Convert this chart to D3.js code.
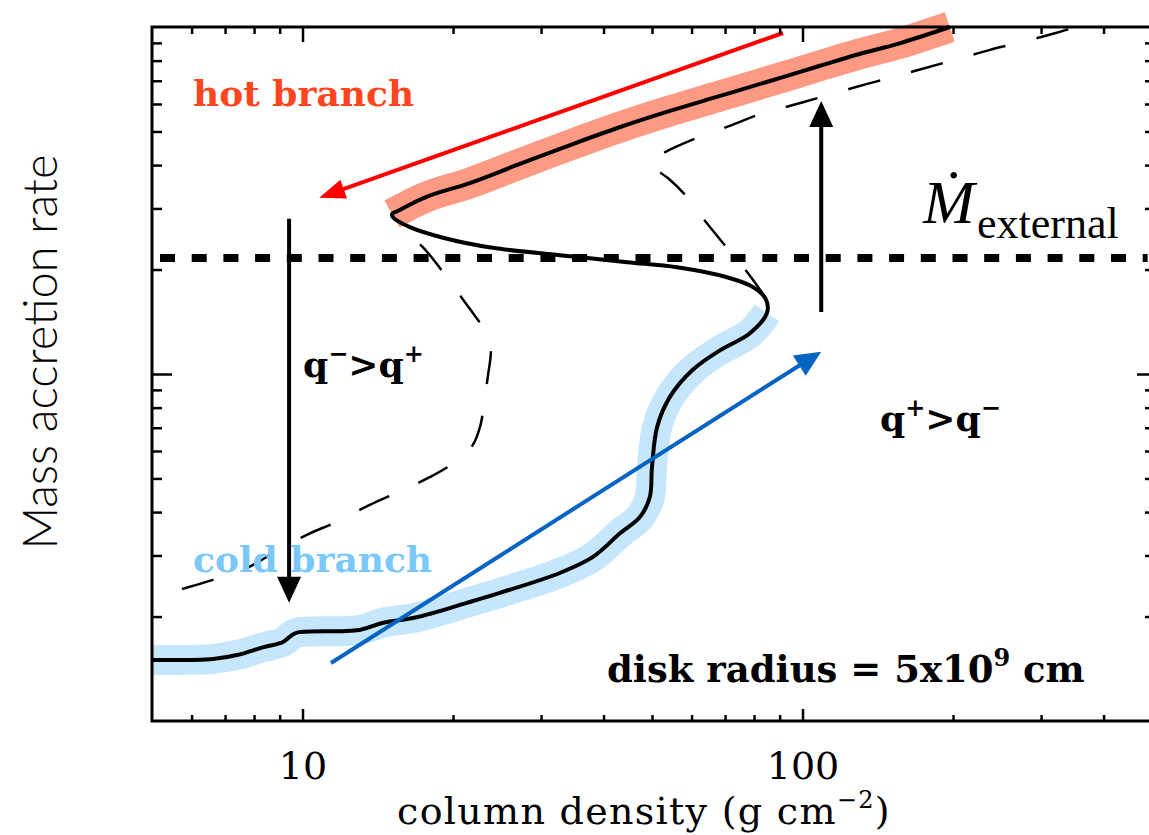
<!DOCTYPE html>
<html>
<head>
<meta charset="utf-8">
<script src="https://cdn.jsdelivr.net/npm/d3@7"></script>
<style>
body { margin: 0; background: #fff; }
svg { display: block; }
</style>
</head>
<body>
<svg id="chart" width="1149" height="835"></svg>
<script>
var width = 1149,
    height = 835;

// thermal equilibrium S-curve (column density, accretion rate in arbitrary units)
var sCurveX = [5.00, 6.62, 7.40, 8.33, 9.14, 9.53, 9.79, 13.0, 14.5, 16.9, 21.3, 24.8, 32.7, 38.1, 43.2, 47.3,
               49.5, 50.0, 51.2, 54.3, 60.4, 68.4, 78.5, 84.9, 84.5, 79.6, 70.6, 56.1, 44.6, 32.7, 24.0, 19.1,
               16.4, 15.2, 15.1, 15.5, 17.7, 21.6, 27.2, 34.3, 43.2, 54.3, 68.4, 86.1, 108, 130, 157, 197];
var sCurveY = [1.50, 1.51, 1.55, 1.63, 1.69, 1.77, 1.80, 1.83, 1.92, 1.99, 2.19, 2.34, 2.67, 2.97, 3.48, 3.87,
               4.42, 5.40, 7.04, 8.59, 10.3, 11.7, 13.1, 15.0, 16.4, 17.8, 19.0, 20.3, 21.0, 22.0, 23.1, 24.7,
               26.5, 28.2, 28.9, 29.5, 32.4, 35.5, 40.3, 45.7, 51.5, 57.3, 63.3, 69.9, 77.2, 83.6, 89.9, 100];
var coldEnd = 24,   // cold branch = first points
    hotStart = 34;  // hot branch = from here on

// dashed curves (other radii)
var dashRX = [84.1, 77.4, 70.6, 64.1, 58.5, 53.8, 50.0, 49.8, 53.1, 61.5, 71.3, 82.6, 95.7, 111, 130, 152,
              176, 205, 237, 276, 321, 352];
var dashRY = [16.7, 19.7, 23.1, 27.4, 32.6, 36.7, 39.8, 41.4, 43.6, 47.9, 51.8, 56.2, 59.6, 63.3, 67.6, 71.8,
              76.2, 80.9, 85.9, 90.6, 96.1, 100];
var dashLX = [15.5, 16.6, 17.6, 19.5, 21.2, 22.6, 23.4, 23.8, 23.5, 23.1, 22.7, 21.9, 20.2, 18.0, 15.7, 13.6,
              11.7, 10.2, 8.81, 7.74, 6.62, 5.74];
var dashLY = [27.1, 24.7, 22.8, 18.9, 16.0, 14.1, 13.2, 11.7, 9.93, 8.42, 7.13, 6.24, 5.58, 5.05, 4.60, 4.19,
              3.75, 3.44, 3.07, 2.76, 2.55, 2.40];

var mdotExternal = 21.6;

// arrows: red (hot -> down), blue (cold -> up), black drop, black rise
var arrowX0 = [91.4, 11.4, 9.40, 109],
    arrowY0 = [96.1, 1.47, 28.0, 15.1],
    arrowX1 = [10.8, 109, 9.40, 109],
    arrowY1 = [32.2, 11.6, 2.19, 61.2];
var arrowColor = ["#ff0000", "#0563c1", "#000", "#000"];

var xMajorTicks = [10, 100],
    xMinorTicks = [6, 7, 8, 9, 20, 30, 40, 50, 60, 70, 80, 90, 200, 300, 400],
    yMajorTicks = [10],
    yMinorTicks = [2, 3, 4, 5, 6, 7, 8, 9, 20, 30, 40, 50, 60, 70, 80, 90];

var pl = 152, pr = 1152, pt = 27, pb = 721;

var svg = d3.select("#chart");
svg.append("rect").attr("width", width).attr("height", height).attr("fill", "#fff");

var x = d3.scaleLog().domain([5, 500]).range([pl, pr]);
var y = d3.scaleLog().domain([1, 100]).range([pb, pt]);

var line = d3.line()
    .x(function(d) { return x(d[0]); })
    .y(function(d) { return y(d[1]); })
    .curve(d3.curveCatmullRom.alpha(0.5));

function pts(xs, ys) { return xs.map(function(v, i) { return [v, ys[i]]; }); }

var sCurve = pts(sCurveX, sCurveY);

// highlight bands
svg.append("path").attr("d", line(sCurve.slice(0, coldEnd)))
    .attr("fill", "none").attr("stroke", "#c6e6fb").attr("stroke-width", 30);
svg.append("path").attr("d", line(sCurve.slice(hotStart)))
    .attr("fill", "none").attr("stroke", "#fd9a83").attr("stroke-width", 31);

// dashed curves
svg.append("path").attr("d", line(pts(dashRX, dashRY)))
    .attr("fill", "none").attr("stroke", "#000").attr("stroke-width", 2.5)
    .attr("stroke-dasharray", "33,32");
var dl = svg.append("path").attr("d", line(pts(dashLX, dashLY)))
    .attr("fill", "none").attr("stroke", "#000").attr("stroke-width", 2.5)
    .attr("stroke-dasharray", "33,32");
// end the left curve on a dash
dl.attr("stroke-dashoffset", 33 - dl.node().getTotalLength() % 65);

// external accretion rate
svg.append("line")
    .attr("x1", x(5)).attr("x2", x(490))
    .attr("y1", y(mdotExternal)).attr("y2", y(mdotExternal))
    .attr("stroke", "#000").attr("stroke-width", 8)
    .attr("stroke-dasharray", "15,16.7").attr("stroke-dashoffset", 23.7);

// main curve
svg.append("path").attr("d", line(sCurve))
    .attr("fill", "none").attr("stroke", "#000").attr("stroke-width", 4);

// arrows
arrowX0.forEach(function(v, i) {
  var x0 = x(v), y0 = y(arrowY0[i]), x1 = x(arrowX1[i]), y1 = y(arrowY1[i]);
  var len = 26, hw = i == 0 ? 10 : 12;
  var dx = x1 - x0, dy = y1 - y0, d = Math.sqrt(dx * dx + dy * dy);
  var ux = dx / d, uy = dy / d, bx = x1 - ux * len, by = y1 - uy * len;
  svg.append("line").attr("x1", x0).attr("y1", y0).attr("x2", bx + ux * 2).attr("y2", by + uy * 2)
      .attr("stroke", arrowColor[i]).attr("stroke-width", 4);
  svg.append("path")
      .attr("d", "M" + x1 + "," + y1 + "L" + (bx - uy * hw) + "," + (by + ux * hw) +
                 "L" + (bx + uy * hw) + "," + (by - ux * hw) + "Z")
      .attr("fill", arrowColor[i]);
});

// axes
function ticks(axis, vals, size, pos, labels) {
  var g = svg.append("g").attr("transform", pos)
      .call(axis.tickValues(vals).tickSize(-size).tickPadding(31)
        .tickFormat(labels ? d3.format("d") : ""));
  g.select(".domain").remove();
  g.selectAll("line").attr("stroke", "#000").attr("stroke-width", 2.5);
  g.selectAll("text").attr("font-family", "DejaVu Serif").attr("font-size", 38).attr("fill", "#000");
}
ticks(d3.axisBottom(x), xMinorTicks, 6, "translate(0," + pb + ")");
ticks(d3.axisBottom(x), xMajorTicks, 12, "translate(0," + pb + ")", true);
ticks(d3.axisTop(x), xMinorTicks, 7, "translate(0," + pt + ")");
ticks(d3.axisTop(x), xMajorTicks, 15, "translate(0," + pt + ")");
ticks(d3.axisLeft(y), yMinorTicks, 10, "translate(" + pl + ",0)");
ticks(d3.axisLeft(y), yMajorTicks, 20, "translate(" + pl + ",0)");
ticks(d3.axisRight(y), yMinorTicks, 7, "translate(" + pr + ",0)");
ticks(d3.axisRight(y), yMajorTicks, 15, "translate(" + pr + ",0)");

svg.append("rect").attr("x", pl).attr("y", pt).attr("width", pr - pl).attr("height", pb - pt)
    .attr("fill", "none").attr("stroke", "#000").attr("stroke-width", 3);

// axis titles
var xt = svg.append("text").attr("x", 644).attr("y", 824).attr("text-anchor", "middle")
    .attr("font-family", "DejaVu Serif").attr("font-size", 38).attr("letter-spacing", 1.3);
xt.append("tspan").text("column density (g cm");
xt.append("tspan").attr("font-size", 24).attr("dy", -16).text("\u22122");
xt.append("tspan").attr("dy", 16).text(")");

svg.append("text")
    .attr("transform", "translate(57,352)rotate(-90)")
    .attr("text-anchor", "middle")
    .attr("font-family", "Lato").attr("font-weight", 300).attr("font-size", 47)
    .attr("fill", "#000")
    .text("Mass accretion rate");

// annotations
function label(tx, ty, color, size) {
  return svg.append("text").attr("x", tx).attr("y", ty)
      .attr("font-family", "DejaVu Serif").attr("font-weight", "bold")
      .attr("font-size", size).attr("fill", color);
}
label(193, 106, "#ff4520", 36).text("hot branch");
label(193, 572, "#79c8f7", 36).text("cold branch");

var q1 = label(303, 377, "#000", 36);
q1.append("tspan").text("q");
q1.append("tspan").attr("font-size", 24).attr("dy", -15).text("\u2212");
q1.append("tspan").attr("dy", 15).text(">q");
q1.append("tspan").attr("font-size", 24).attr("dy", -15).text("+");

var q2 = label(880, 431, "#000", 36);
q2.append("tspan").text("q");
q2.append("tspan").attr("font-size", 24).attr("dy", -15).text("+");
q2.append("tspan").attr("dy", 15).text(">q");
q2.append("tspan").attr("font-size", 24).attr("dy", -15).text("\u2212");

var dr = label(607, 682, "#000", 37);
dr.append("tspan").text("disk radius = 5x10");
dr.append("tspan").attr("font-size", 24).attr("dy", -16).text("9");
dr.append("tspan").attr("dy", 16).text(" cm");

svg.append("text").attr("x", 923).attr("y", 223)
    .attr("font-family", "Liberation Serif").attr("font-style", "italic").attr("font-size", 62)
    .text("\u1E40");
svg.append("text").attr("x", 977).attr("y", 238)
    .attr("font-family", "Liberation Serif").attr("font-size", 44)
    .text("external");
</script>
</body>
</html>
